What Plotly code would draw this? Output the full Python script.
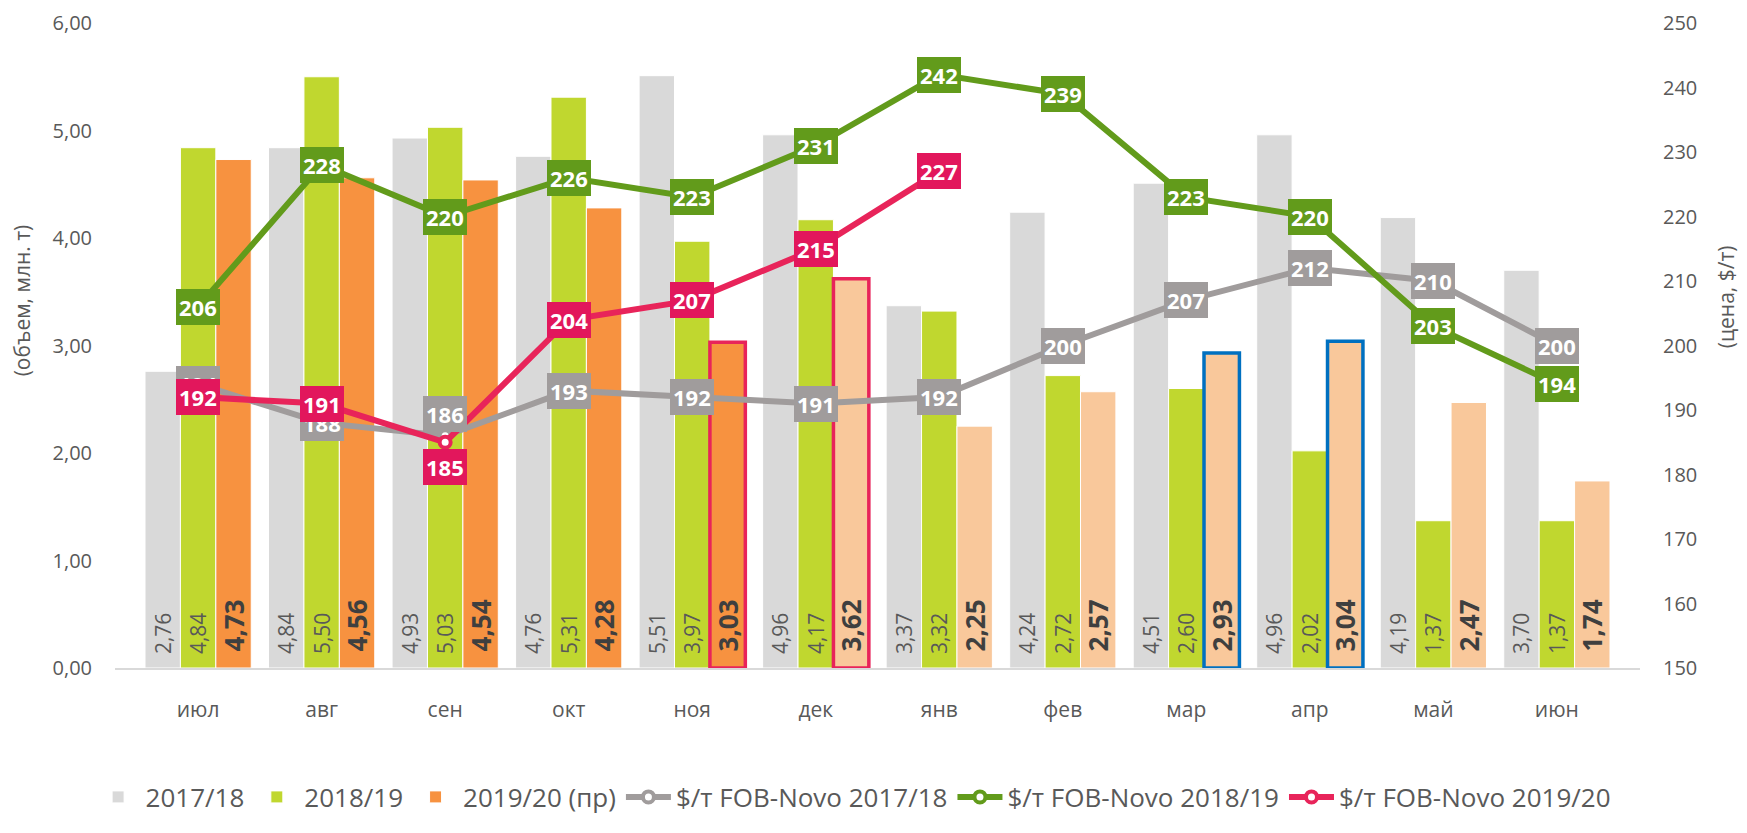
import plotly.graph_objects as go

months = ["июл", "авг", "сен", "окт", "ноя", "дек", "янв", "фев", "мар", "апр", "май", "июн"]

vol_2017 = [2.76, 4.84, 4.93, 4.76, 5.51, 4.96, 3.37, 4.24, 4.51, 4.96, 4.19, 3.70]
vol_2018 = [4.84, 5.50, 5.03, 5.31, 3.97, 4.17, 3.32, 2.72, 2.60, 2.02, 1.37, 1.37]
vol_2019 = [4.73, 4.56, 4.54, 4.28, 3.03, 3.62, 2.25, 2.57, 2.93, 3.04, 2.47, 1.74]

price_2017 = [194, 188, 186, 193, 192, 191, 192, 200, 207, 212, 210, 200]
price_2018 = [206, 228, 220, 226, 223, 231, 242, 239, 223, 220, 203, 194]
price_2019 = [192, 191, 185, 204, 207, 215, 227]

names = ["2017/18", "2018/19", "2019/20 (пр)",
         "$/т FOB-Novo 2017/18", "$/т FOB-Novo 2018/19", "$/т FOB-Novo 2019/20"]
y_title = "(объем, млн. т)"
y2_title = "(цена, $/т)"

FONT = "Open Sans"
TXT = "#595959"
C_GRAY_BAR = "#D9D9D9"
C_GREEN_BAR = "#C0D72F"
C_ORANGE = "#F79240"
C_PEACH = "#F9C89B"
C_GRAY_LINE = "#A09C9C"
C_GREEN_LINE = "#629B1B"
C_PINK = "#E8245A"
C_BLUE = "#0070C0"
PAD = "\u00a0\u00a0"


def fmt(v):
    return f"{v:.2f}".replace(".", ",")


# styling of the 2019/20 bars (forecast colour + highlighted outlines)
n_actual = 5
orange_fill = [C_ORANGE if i < n_actual else C_PEACH for i in range(len(months))]
outline_col = ["white"] * len(months)
outline_w = [1] * len(months)
for i in (4, 5):
    outline_col[i] = C_PINK
    outline_w[i] = 3.5
for i in (8, 9):
    outline_col[i] = C_BLUE
    outline_w[i] = 3.5

fig = go.Figure()

fig.add_trace(go.Bar(
    x=months, y=vol_2017, name=names[0], marker=dict(color=C_GRAY_BAR, line=dict(color="white", width=1)),
    text=[PAD + fmt(v) for v in vol_2017], textposition="inside", insidetextanchor="start",
    textangle=-90, constraintext="none", textfont=dict(family=FONT, size=21, color=TXT),
    hoverinfo="skip"))
fig.add_trace(go.Bar(
    x=months, y=vol_2018, name=names[1], marker=dict(color=C_GREEN_BAR, line=dict(color="white", width=1)),
    text=[PAD + fmt(v) for v in vol_2018], textposition="inside", insidetextanchor="start",
    textangle=-90, constraintext="none", textfont=dict(family=FONT, size=21, color=TXT),
    hoverinfo="skip"))
fig.add_trace(go.Bar(
    x=months, y=vol_2019, name=names[2],
    marker=dict(color=orange_fill, line=dict(color=outline_col, width=outline_w)),
    text=[PAD + "<b>" + fmt(v) + "</b>" for v in vol_2019], textposition="inside",
    insidetextanchor="start", textangle=-90, constraintext="none",
    textfont=dict(family=FONT, size=26, color="#3F3F3F"),
    hoverinfo="skip"))

for yv, nm, col, xs in ((price_2017, names[3], C_GRAY_LINE, months),
                        (price_2018, names[4], C_GREEN_LINE, months),
                        (price_2019, names[5], C_PINK, months[:len(price_2019)])):
    fig.add_trace(go.Scatter(
        x=xs, y=yv, name=nm, yaxis="y2", mode="lines+markers",
        line=dict(color=col, width=6),
        marker=dict(symbol="circle", size=11, color="white", line=dict(color=col, width=4)),
        hoverinfo="skip"))

# value labels on the price lines
label_shift = {(0, 2): 22, (2, 2): -25}
label_bg = [C_GRAY_LINE, C_GREEN_LINE, "#E2175C"]
for s, (yv, xs) in enumerate(((price_2017, months), (price_2018, months), (price_2019, months))):
    for i, v in enumerate(yv):
        fig.add_annotation(
            x=xs[i], y=v, xref="x", yref="y2", text=f"<b>{v}</b>", showarrow=False,
            font=dict(family=FONT, size=22, color="white"),
            bgcolor=label_bg[s], bordercolor=label_bg[s], borderwidth=2, borderpad=1,
            yshift=label_shift.get((s, i), 0))

# axis titles (placed like the original: above the axis middle)
fig.add_annotation(text=y_title, xref="paper", yref="paper", x=-0.061, y=0.57,
                   textangle=-90, showarrow=False, xanchor="center", yanchor="middle",
                   font=dict(family=FONT, size=21, color=TXT))
fig.add_annotation(text=y2_title, xref="paper", yref="paper", x=1.0565, y=0.575,
                   textangle=-90, showarrow=False, xanchor="center", yanchor="middle",
                   font=dict(family=FONT, size=21, color=TXT))

fig.update_layout(
    width=1747, height=833,
    margin=dict(l=115, r=107, t=23, b=145),
    paper_bgcolor="white", plot_bgcolor="white",
    separators=", ",
    font=dict(family=FONT, color=TXT, size=20),
    barmode="group", bargap=0.14, bargroupgap=0,
    showlegend=True,
    legend=dict(orientation="h", x=0.484, xanchor="center", y=-0.2, yanchor="middle",
                font=dict(family=FONT, size=26, color=TXT), itemwidth=45,
                traceorder="normal"),
    xaxis=dict(showgrid=False, showline=True, linecolor="#D9D9D9", linewidth=2, automargin=False,
               ticks="", tickfont=dict(size=21, color=TXT), ticklabelstandoff=22),
    yaxis=dict(range=[0, 6], dtick=1, tickformat=".2f", showgrid=False, zeroline=False,
               showline=False, ticks="", tickfont=dict(size=20, color=TXT), automargin=False,
               ticklabelstandoff=22),
    yaxis2=dict(range=[150, 250], dtick=10, overlaying="y", side="right", showgrid=False,
                zeroline=False, showline=False, ticks="", tickfont=dict(size=20, color=TXT),
                automargin=False, ticklabelstandoff=22),
)

fig.write_html("out.html", config={"displayModeBar": False},
               post_script="document.body.style.margin='0px';")
